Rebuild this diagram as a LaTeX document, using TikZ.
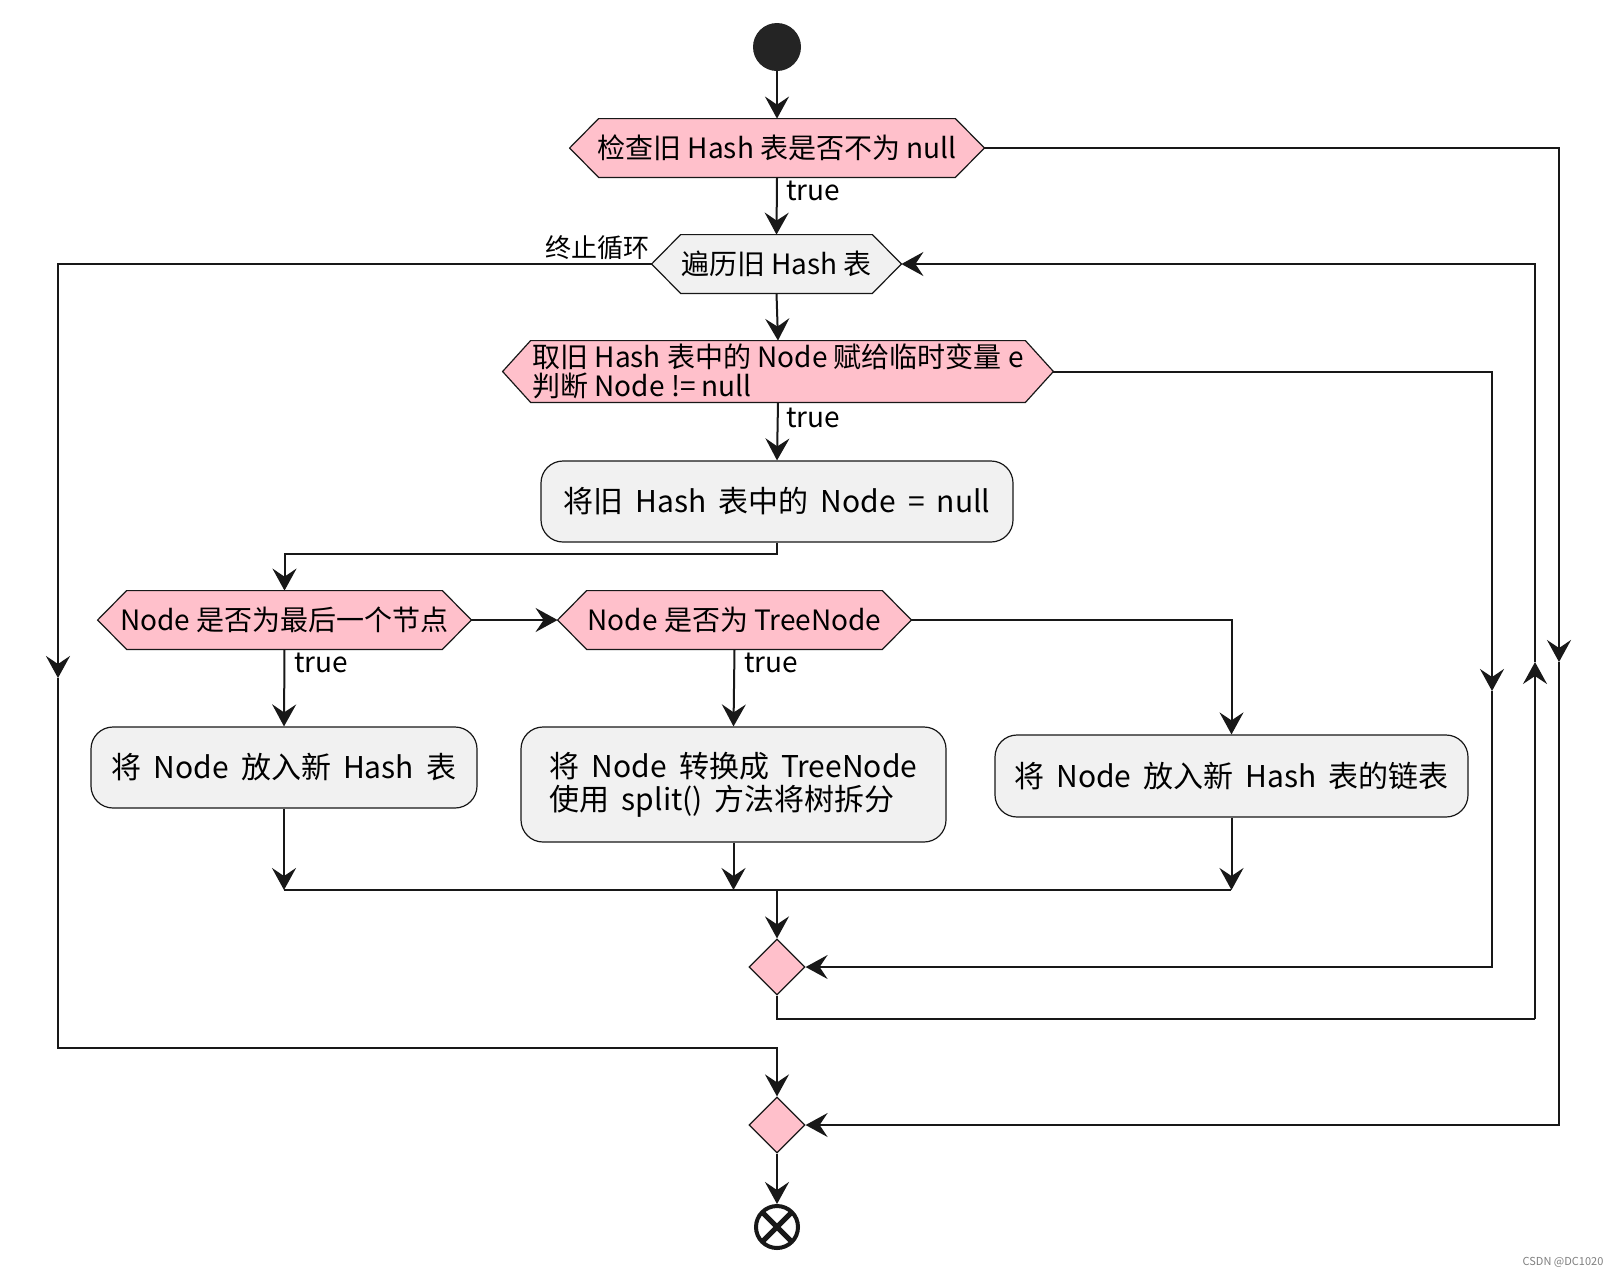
\documentclass[tikz,border=0pt]{standalone}
\usepackage{fontspec}
\setmainfont{Noto Sans CJK SC}
\newfontfamily\actfont[WordSpace=1.8]{Noto Sans CJK SC}
\usetikzlibrary{arrows.meta,shapes.geometric,backgrounds,calc}
\definecolor{lnc}{HTML}{181818}
\definecolor{pinkc}{HTML}{FFC0CB}
\definecolor{greyc}{HTML}{F1F1F1}
\newcommand\hexbg[3]{%
  \filldraw[fill=#3,draw=lnc,line width=0.6pt]
    ([xshift=#2]#1.north west) -- ([xshift=-#2]#1.north east) -- (#1.east) --
    ([xshift=-#2]#1.south east) -- ([xshift=#2]#1.south west) -- (#1.west) -- cycle;}
\begin{document}
\begin{tikzpicture}[x=0.5pt,y=-0.5pt,
  conn/.style={line width=1pt, draw=lnc},
  arr/.style={conn, -{Stealth[length=11pt,width=12pt,inset=4pt]}},
  dtext/.style={rectangle, inner sep=0pt, font=\fontsize{14pt}{14.8pt}\selectfont, text=black},
  act/.style={rectangle, rounded corners=11pt, draw=lnc, line width=0.6pt, fill=greyc,
              inner sep=0pt, font=\actfont\fontsize{15pt}{16.5pt}\selectfont},
  lbl/.style={font=\fontsize{14pt}{15pt}\selectfont, inner sep=0pt, anchor=west},
  merge/.style={diamond, draw=lnc, fill=pinkc, line width=0.6pt, minimum width=28pt,
                minimum height=28pt, inner sep=0pt},
]
\useasboundingbox (0,0) rectangle (1622,1276);

% nodes
\node[circle, fill=lnc!95!white, minimum size=24pt, inner sep=0pt] (start) at (777,47) {};
\node[dtext, minimum width=207pt, minimum height=29pt] (d1) at (777,148) {检查旧 Hash 表是否不为 null};
\node[dtext, minimum width=124.5pt, minimum height=29pt] (loop) at (776.5,264) {遍历旧 Hash 表};
\node[dtext, minimum width=275pt, minimum height=30.5pt, align=left] (d2) at (778,371.5)
  {取旧 Hash 表中的 Node 赋给临时变量 e\\判断 Node != null};
\node[act, minimum width=236pt, minimum height=40.5pt] (a0) at (777,501.5) {将旧 Hash 表中的 Node = null};
\node[dtext, minimum width=186.5pt, minimum height=29pt] (d3) at (284.5,620) {Node 是否为最后一个节点};
\node[dtext, minimum width=176.5pt, minimum height=29pt] (d4) at (734.5,620) {Node 是否为 TreeNode};
\node[act, minimum width=193pt, minimum height=40.5pt] (a1) at (284,767.5) {将 Node 放入新 Hash 表};
\node[act, minimum width=212.5pt, minimum height=57.5pt, align=left] (a2) at (733.5,784.5)
  {将 Node 转换成 TreeNode\\使用 split() 方法将树拆分};
\node[act, minimum width=236.5pt, minimum height=41pt] (a3) at (1231.5,776) {将 Node 放入新 Hash 表的链表};
\node[merge] (dm1) at (777,967) {};
\node[merge] (dm2) at (777,1125) {};
\node[circle, draw=lnc, line width=2pt, fill=white, minimum size=21pt, inner sep=0pt] (end) at (777,1227) {};
\draw[line width=2.6pt, lnc] ($(end.center)+(-7pt,-7pt)$) -- ($(end.center)+(7pt,7pt)$);
\draw[line width=2.6pt, lnc] ($(end.center)+(-7pt,7pt)$) -- ($(end.center)+(7pt,-7pt)$);

\begin{scope}[on background layer]
  \fill[white] (0,0) rectangle (1622,1276);
  \hexbg{d1}{14.5pt}{pinkc}
  \hexbg{loop}{14.5pt}{greyc}
  \hexbg{d2}{14pt}{pinkc}
  \hexbg{d3}{14.5pt}{pinkc}
  \hexbg{d4}{14.5pt}{pinkc}
\end{scope}

% labels
\node[lbl] (t1) at (786,191) {true};
\node[lbl] (t2) at (786,418) {true};
\node[lbl] (t3) at (294,663) {true};
\node[lbl] (t4) at (744,663) {true};
\node[lbl, anchor=east, font=\fontsize{13pt}{14pt}\selectfont] (stop) at (650,248) {终止循环};
\node[font=\fontsize{5.5pt}{6pt}\selectfont, text=gray, inner sep=0pt] (wm) at (1563,1262) {CSDN @DC1020};

% coordinates
\coordinate (j1) at (777,554);
\coordinate (bl) at (284,890);
\coordinate (br) at (1231,890);
\coordinate (bm) at (777,890);
\coordinate (r1) at (1492,691);
\coordinate (r2b) at (1535,1019);
\coordinate (r2) at (1535,662);
\coordinate (l1) at (58,678);
\coordinate (l2) at (58,1048);
\coordinate (o1) at (1559,662);

% connectors
\draw[arr] (start.south) -- (d1.north);
\draw[arr] (d1.south) -- (loop.north);
\draw[arr] (loop.south) -- (d2.north);
\draw[arr] (d2.south) -- (a0.north);
\draw[arr] (a0.south) -- (j1) -| (d3.north);
\draw[arr] (d3.east) -- (d4.west);
\draw[arr] (d3.south) -- (a1.north);
\draw[arr] (d4.south) -- (a2.north);
\draw[arr] (d4.east) -| (a3.north);
\draw[conn] (bl) -- (br);
\draw[arr] (a1.south) -- (a1.south |- bl);
\draw[arr] (a2.south) -- (a2.south |- bl);
\draw[arr] (a3.south) -- (a3.south |- bl);
\draw[arr] (bm) -- (dm1.north);
\draw[arr] (d2.east) -| (r1);
\draw[arr] (r1) |- (dm1.east);
\draw[conn] (dm1.south) |- (r2b);
\draw[arr] (r2b) -- (r2);
\draw[arr] (r2) |- (loop.east);
\draw[arr] (loop.west) -| (l1);
\draw[arr] (l1) -- (l2) -| (dm2.north);
\draw[arr] (d1.east) -| (o1);
\draw[arr] (o1) |- (dm2.east);
\draw[arr] (dm2.south) -- (end.north);
\end{tikzpicture}
\end{document}
